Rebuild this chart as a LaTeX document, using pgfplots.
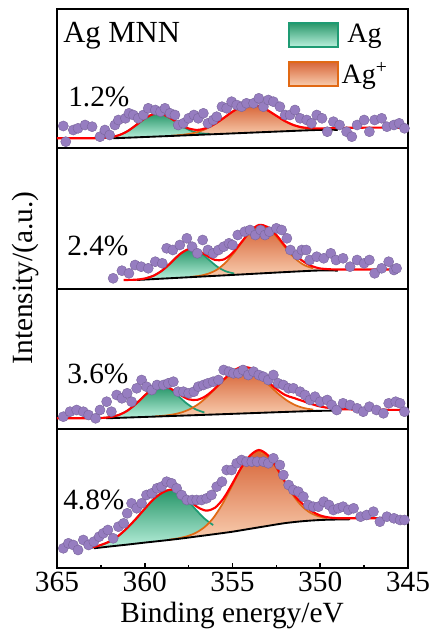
\documentclass[border=0pt]{standalone}
\usepackage{pgfplots}
\pgfplotsset{compat=1.18}
\usepackage{fontspec}
\IfFontExistsTF{Liberation Serif}{\setmainfont{Liberation Serif}}{\setmainfont{DejaVu Serif}}

\definecolor{gline}{RGB}{30,155,115}
\definecolor{gtop}{RGB}{40,150,105}
\definecolor{gbot}{RGB}{185,240,220}
\definecolor{oline}{RGB}{225,105,20}
\definecolor{otop}{RGB}{215,100,55}
\definecolor{obot}{RGB}{248,205,175}
\definecolor{purp}{RGB}{150,125,192}

\newcommand{\bigfont}{\rmfamily\fontsize{22}{25}\selectfont}

\pgfplotsset{
  panel/.style={
    scale only axis, width=263.25pt,
    xmin=345, xmax=365, x dir=reverse, ymin=0,
    anchor=south west,
    axis line style={line width=1.6pt},
    xtick=\empty, ytick=\empty,
  },
  gfill/.style={draw=none, top color=gtop, bottom color=gbot},
  ofill/.style={draw=none, top color=otop, bottom color=obot},
  gedge/.style={gline, line width=1.3pt, smooth},
  oedge/.style={oline, line width=1.3pt, smooth},
  base/.style={black, line width=1.4pt, smooth},
  env/.style={red, line width=1.6pt, smooth},
  pts/.style={only marks, mark=*, mark size=3.8pt,
    mark options={fill=purp, draw=purp!80!black, line width=0.3pt}},
}

\begin{document}
\begin{tikzpicture}
\useasboundingbox (-42.75pt,-48.75pt) rectangle (282pt,426pt);

% ---- panel 1 : 1.2% ----
\begin{axis}[panel, at={(0,315pt)}, height=104.25pt, ymax=139,
  legend style={at={(0.658,0.91)}, anchor=north west, draw=none, fill=none,
    font=\rmfamily\fontsize{21}{23}\selectfont, row sep=9pt, inner sep=0pt},
]
\addplot[gfill, legend image code/.code={\draw[line width=1.3pt, draw=gline, top color=gtop, bottom color=gbot] (0pt,-9pt) rectangle (36.75pt,9pt);}]
  coordinates {(362.3,10.1)(361.8,11.1)(361.3,14.0)(360.8,18.9)(360.3,25.6)(359.8,31.7)(359.3,34.5)(358.8,32.5)(358.3,27.0)(357.8,21.1)(357.3,16.8)(356.8,14.7)(356.3,14.1)(355.8,14.1)(355.8,14.0)(361.8,9.7)(362.3,9.7)} -- cycle;
\addlegendentry{Ag}
\addplot[ofill, legend image code/.code={\draw[line width=1.3pt, draw=oline, top color=otop, bottom color=obot] (0pt,-9pt) rectangle (36.75pt,9pt);}]
  coordinates {(358.5,12.2)(358,12.9)(357.5,14.0)(357,15.9)(356.5,19.2)(356,24.0)(355.5,30.0)(355,36.3)(354.5,41.2)(354,43.3)(353.5,41.9)(353,37.7)(352.5,32.2)(352,26.8)(351.5,22.8)(351,20.2)(350.5,19.0)(350,18.5)(349.5,18.2)(349.5,18)(350.2,18)(358.5,12.06)} -- cycle;
\addlegendentry{Ag\textsuperscript{+}}
\addplot[gedge] coordinates {(362.3,10.1)(361.8,11.1)(361.3,14.0)(360.8,18.9)(360.3,25.6)(359.8,31.7)(359.3,34.5)(358.8,32.5)(358.3,27.0)(357.8,21.1)(357.3,16.8)(356.8,14.7)(356.3,14.1)};
\addplot[oedge] coordinates {(358.5,12.2)(358,12.9)(357.5,14.0)(357,15.9)(356.5,19.2)(356,24.0)(355.5,30.0)(355,36.3)(354.5,41.2)(354,43.3)(353.5,41.9)(353,37.7)(352.5,32.2)(352,26.8)(351.5,22.8)(351,20.2)(350.5,19.0)(350,18.5)};
\addplot[base] coordinates {(361.8,9.7)(356,13.85)(350.2,18)(349,18)};
\addplot[env] coordinates {(365,9.7)(364,9.7)(363,9.7)(362.5,9.9)(362,10.6)(361.5,12.6)(361,16.6)(360.5,22.8)(360,29.5)(359.5,33.9)(359,33.8)(358.5,29.5)(358,23.7)(357.5,19.5)(357,18.1)(356.5,19.9)(356,24.1)(355.5,30.0)(355,36.3)(354.5,41.2)(354,43.3)(353.5,41.9)(353,37.7)(352.5,32.2)(352,26.8)(351.5,22.8)(351,20.6)(350.5,19.8)(350,19.6)(349,20.0)(348,20.3)(345,20.3)};
\addplot[pts] coordinates {(364.64,22)(364.5,6.3)(364.07,18)(363.8,19.7)(363.4,23)(363.0,21.3)(362.55,11.3)(362.27,18)(362.0,13)(361.7,23)(361.5,28)(361.1,29.7)(360.9,34.7)(360.65,33)(360.37,29.7)(360.08,33)(359.8,39.7)(359.4,38)(359.1,36.3)(358.85,39.7)(358.56,34.7)(358.28,33)(358.09,23)(357.8,24.7)(357.5,29.7)(357.2,33)(356.95,29.7)(356.66,34.7)(356.4,24.7)(356.1,28)(355.9,31.3)(355.6,41.3)(355.33,39.7)(355.05,46.3)(354.76,43)(354.48,41.3)(354.2,44.7)(353.8,44.7)(353.5,49.7)(353.24,41.3)(352.96,48)(352.67,46.3)(352.3,41.3)(352.0,33)(351.72,33)(351.44,38)(351.15,29.7)(350.77,28)(350.5,24.7)(350.2,33)(349.9,29.7)(349.6,16.3)(349.25,26.3)(348.9,23)(348.5,16.3)(348.2,11.3)(347.9,23)(347.5,28)(347.2,16.3)(346.9,28)(346.5,29.7)(346.2,21.3)(345.8,23)(345.5,24.7)(345.2,19.7)};
\end{axis}

% ---- panel 2 : 2.4% ----
\begin{axis}[panel, at={(0,209.25pt)}, height=105.75pt, ymax=141]
\addplot[gfill] coordinates {(359.9,10.9)(359.4,14.1)(358.9,19.9)(358.4,28.2)(357.9,36.2)(357.4,39.8)(356.9,37.1)(356.4,30.1)(355.9,22.7)(355.4,17.8)(354.9,15.5)(354.4,15.0)(354.4,14.6)(359.9,9.52)} -- cycle;
\addplot[ofill] coordinates {(357.4,12.1)(356.9,13.1)(356.4,15.2)(355.9,19.2)(355.4,26.3)(354.9,36.5)(354.4,48.4)(353.9,58.4)(353.4,62.5)(352.9,59.3)(352.4,50.3)(351.9,39.3)(351.4,30.0)(350.9,23.8)(350.4,20.7)(349.9,19.1)(349.4,18.5)(349.4,18.3)(350.4,18.3)(357.4,11.83)} -- cycle;
\addplot[gedge] coordinates {(359.9,10.9)(359.4,14.1)(358.9,19.9)(358.4,28.2)(357.9,36.2)(357.4,39.8)(356.9,37.1)(356.4,30.1)(355.9,22.7)(355.4,17.8)(354.9,15.5)};
\addplot[oedge] coordinates {(357.4,12.1)(356.9,13.1)(356.4,15.2)(355.9,19.2)(355.4,26.3)(354.9,36.5)(354.4,48.4)(353.9,58.4)(353.4,62.5)(352.9,59.3)(352.4,50.3)(351.9,39.3)(351.4,30.0)(350.9,23.8)(350.4,20.7)};
\addplot[base] coordinates {(360.46,9)(355.4,13.7)(350.4,18.3)(349,18.3)};
\addplot[env] coordinates {(361.2,9.0)(360.5,9.3)(360,10.5)(359.5,13.3)(359,18.6)(358.5,26.4)(358,34.8)(357.5,39.8)(357,38.8)(356.5,33.7)(356,29.1)(355.5,29.5)(355,36.0)(354.5,46.5)(354,57.5)(353.5,64)(353,62)(352.5,54)(352,43)(351.5,35)(351,28)(350.5,23)(350,20.5)(349.5,19.8)(349,19.5)(347,19.5)(345.6,19.5)};
\addplot[pts] coordinates {(361.8,10.7)(361.3,18.3)(360.9,15.7)(360.55,24)(360.2,22.3)(359.8,20.7)(359.4,27.3)(359.0,25.7)(358.75,40.7)(358.4,39)(358.0,44)(357.6,50.7)(357.3,42.3)(357.0,35.7)(356.7,49)(356.4,39)(356.1,35.7)(355.8,39)(355.5,42.3)(355.2,45.7)(355.0,44)(354.7,54)(354.3,57.3)(354.0,59)(353.7,54)(353.4,59)(353.15,54)(352.9,57.3)(352.5,60.7)(352.2,59)(351.9,50.7)(351.7,39)(351.3,34)(351.05,39)(350.8,39)(350.6,29)(350.2,32.3)(349.8,30.7)(349.4,35.7)(349.1,29)(348.7,30.7)(348.3,22.3)(347.9,29)(347.5,25.7)(347.2,29)(346.9,15.7)(346.5,20.7)(346.1,27.3)(345.8,19)(345.65,20.7)};
\end{axis}

% ---- panel 3 : 3.6% ----
\begin{axis}[panel, at={(0,104.25pt)}, height=105pt, ymax=140]
\addplot[gfill] coordinates {(362.6,10.9)(362.1,11.5)(361.6,13.4)(361.1,17.2)(360.6,23.6)(360.1,31.9)(359.6,39.4)(359.1,42.6)(358.6,40.0)(358.1,33.1)(357.6,25.45)(357.1,19.7)(356.6,16.5)(356.1,15.2)(355.6,15.0)(355.6,14.8)(362.2,10.7)(362.6,10.7)} -- cycle;
\addplot[ofill] coordinates {(359.4,12.6)(358.9,13.3)(358.4,14.5)(357.9,16.6)(357.4,20.1)(356.9,25.5)(356.4,33.0)(355.9,41.8)(355.4,50.4)(354.9,56.9)(354.4,59.5)(353.9,57.5)(353.4,51.6)(352.9,43.6)(352.4,35.4)(351.9,28.55)(351.4,23.7)(350.9,20.85)(350.4,19.4)(349.9,18.6)(349.4,18.2)(349.4,18)(350.4,18)(359.4,12.43)} -- cycle;
\addplot[gedge] coordinates {(362.6,10.9)(362.1,11.5)(361.6,13.4)(361.1,17.2)(360.6,23.6)(360.1,31.9)(359.6,39.4)(359.1,42.6)(358.6,40.0)(358.1,33.1)(357.6,25.45)(357.1,19.7)(356.6,16.5)};
\addplot[oedge] coordinates {(359.4,12.6)(358.9,13.3)(358.4,14.5)(357.9,16.6)(357.4,20.1)(356.9,25.5)(356.4,33.0)(355.9,41.8)(355.4,50.4)(354.9,56.9)(354.4,59.5)(353.9,57.5)(353.4,51.6)(352.9,43.6)(352.4,35.4)(351.9,28.55)(351.4,23.7)(350.9,20.85)(350.4,19.4)};
\addplot[base] coordinates {(362.2,10.7)(356.3,14.35)(350.4,18)(349,18)};
\addplot[env] coordinates {(365,10.7)(363,10.75)(362.5,11.0)(362,11.8)(361.5,13.9)(361,18.2)(360.5,25.1)(360,33.6)(359.5,40.8)(359,43.1)(358.5,40.1)(358,34.4)(357.5,29.7)(357,29.2)(356.5,33.2)(356,40.5)(355.5,49.5)(355,57.5)(354.5,62)(354,61)(353.5,55.5)(353,47.5)(352.5,40)(352,34)(351.5,31)(351,28)(350.5,25)(350,22.5)(349.5,21)(349,20)(348,19.5)(345,19)};
\addplot[pts] coordinates {(364.64,12.3)(364.26,17.3)(363.88,19)(363.5,17.3)(363.2,14)(362.8,10.7)(362.55,19)(362.17,27.3)(361.9,17.3)(361.6,34)(361.3,30.7)(361.0,35.7)(360.75,27.3)(360.46,40.7)(360.18,49)(359.9,42.3)(359.6,39)(359.3,44)(358.94,44)(358.66,45.7)(358.37,47.3)(358.1,37.3)(357.8,37.3)(357.5,35.7)(357.2,37.3)(356.95,42.3)(356.66,44)(356.4,45.7)(356.1,47.3)(355.8,49)(355.5,59)(355.2,57.3)(354.95,55.7)(354.67,55.7)(354.4,59)(354.1,54)(353.8,57.3)(353.5,54)(353.24,52.3)(352.96,49)(352.67,54)(352.4,45.7)(352.1,44)(351.8,40.7)(351.53,40.7)(351.15,37.3)(350.87,34)(350.58,29)(350.3,32.3)(350.0,27.3)(349.6,29)(349.35,24)(349.06,19)(348.7,25.7)(348.3,24)(347.9,20.7)(347.55,17.3)(347.2,22.3)(346.8,19)(346.4,15.7)(346.1,25.7)(345.7,27.3)(345.45,25.7)(345.2,17.3)};
\end{axis}

% ---- panel 4 : 4.8% ----
\begin{axis}[panel, at={(0,0)}, height=104.25pt, ymax=139,
  xtick={345,350,355,360,365}, minor xtick={347.5,352.5,357.5,362.5},
  tick align=inside, xtick pos=bottom,
  major tick length=4pt, minor tick length=2.5pt,
  tick style={line width=1.2pt, black},
  /pgf/number format/assume math mode=true,
  xticklabel style={font=\bigfont, inner sep=1pt, yshift=-2pt},
]
\addplot[gfill] coordinates {(363.1,20.1)(362.6,22.3)(362.1,25.6)(361.6,30.7)(361.1,38.2)(360.6,47.2)(360.1,57.2)(359.6,67.2)(359.1,74.6)(358.6,78.1)(358.1,75.8)(357.6,68.3)(357.1,58.6)(356.6,49.5)(356.1,42.9)(355.6,39.3)(355.1,37.8)(355.1,36.0)(356.1,33.7)(357.1,31.4)(358.1,29.1)(359.1,27.1)(360.1,25.2)(361.1,23.2)(362.1,21.3)(363.1,19.3)} -- cycle;
\addplot[ofill] coordinates {(358.6,28.3)(358.1,29.6)(357.6,31.7)(357.1,35.1)(356.6,40.8)(356.1,49.9)(355.6,63.2)(355.1,79.6)(354.6,96.8)(354.1,110.3)(353.6,116.3)(353.1,113.2)(352.6,102.6)(352.1,88.3)(351.6,74.0)(351.1,62.8)(350.6,55.6)(350.1,51.7)(349.6,50.0)(349.1,49.0)(348.6,48.8)(348.6,48.6)(349.6,48.3)(350.6,47.4)(351.6,45.7)(352.6,43.2)(353.6,40.3)(354.6,37.4)(355.6,34.9)(356.6,32.6)(357.6,30.2)(358.6,28.1)} -- cycle;
\addplot[gedge] coordinates {(363.1,20.1)(362.6,22.3)(362.1,25.6)(361.6,30.7)(361.1,38.2)(360.6,47.2)(360.1,57.2)(359.6,67.2)(359.1,74.6)(358.6,78.1)(358.1,75.8)(357.6,68.3)(357.1,58.6)(356.6,49.5)(356.1,42.9)};
\addplot[oedge] coordinates {(358.6,28.3)(358.1,29.6)(357.6,31.7)(357.1,35.1)(356.6,40.8)(356.1,49.9)(355.6,63.2)(355.1,79.6)(354.6,96.8)(354.1,110.3)(353.6,116.3)(353.1,113.2)(352.6,102.6)(352.1,88.3)(351.6,74.0)(351.1,62.8)(350.6,55.6)(350.1,51.7)(349.6,50.0)};
\addplot[base] coordinates {(362.9,19.7)(362,21.5)(361,23.4)(360,25.4)(359,27.3)(358,29.3)(357,31.6)(356,33.9)(355,36.3)(354,39.2)(353,42.1)(352,44.9)(351,46.8)(350,48.0)(349,48.5)(348.3,48.7)};
\addplot[env] coordinates {(363,20.6)(362.5,23.0)(362,26.6)(361.5,32.2)(361,40.0)(360.5,49.2)(360,59.2)(359.5,68.7)(359,75.3)(358.5,78.4)(358,75.3)(357.5,68.2)(357,61.0)(356.5,57.4)(356,60.2)(355.5,69.9)(355,84.6)(354.5,100.4)(354,112.4)(353.5,118)(353,113)(352.5,101)(352,86)(351.5,73)(351,64)(350.5,57)(350,52.5)(349.5,50.5)(349,49.8)(348.5,49.7)(345,49.7)};
\addplot[pts] coordinates {(364.64,19.7)(364.35,24.7)(364.07,23)(363.8,18)(363.5,28)(363.2,23)(362.9,26.3)(362.6,31.3)(362.36,34.7)(362.1,38)(361.8,29.7)(361.5,41.3)(361.2,44.7)(361.0,54.7)(360.75,64.7)(360.46,59.7)(360.18,64.7)(359.9,73)(359.6,74.7)(359.3,79.7)(359.04,81.3)(358.75,86.3)(358.47,84.7)(358.18,79.7)(357.9,73)(357.6,68)(357.3,68)(357.04,68)(356.76,68)(356.47,69.7)(356.2,73)(355.9,81.3)(355.6,86.3)(355.33,98)(355.05,98)(354.76,104.7)(354.48,108)(354.2,106.3)(353.9,106.3)(353.6,106.3)(353.24,106.3)(352.96,104.7)(352.67,109.7)(352.3,103)(352.1,93)(351.8,83)(351.53,78)(351.25,76.3)(350.96,71.3)(350.68,63)(350.4,61.3)(350.1,61.3)(349.8,66.3)(349.5,63)(349.25,58)(348.97,59.7)(348.7,61.3)(348.4,58)(348.1,59.7)(347.7,51.3)(347.35,53)(346.97,56.3)(346.6,46.3)(346.2,51.3)(345.8,49.7)(345.45,48)(345.2,48)};
\end{axis}

% labels
\node[anchor=base west, inner sep=0pt, font=\rmfamily\fontsize{23}{25}\selectfont] at (4.5pt,393.75pt) {Ag MNN};
\node[anchor=base west, inner sep=0pt, font=\bigfont] at (8.25pt,345.75pt) {1.2\%};
\node[anchor=base west, inner sep=0pt, font=\bigfont] at (7.5pt,234pt) {2.4\%};
\node[anchor=base west, inner sep=0pt, font=\bigfont] at (7.5pt,138pt) {3.6\%};
\node[anchor=base west, inner sep=0pt, font=\bigfont] at (4.5pt,44.25pt) {4.8\%};
\node[anchor=base, inner sep=0pt, font=\bigfont] at (131.25pt,-40.5pt) {Binding energy/eV};
\node[rotate=90, inner sep=0pt, font=\bigfont] at (-24pt,217.5pt) {Intensity/(a.u.)};
\end{tikzpicture}
\end{document}
